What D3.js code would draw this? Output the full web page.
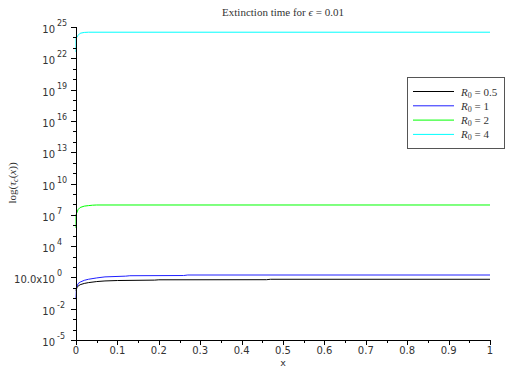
<!DOCTYPE html>
<html><head><meta charset="utf-8">
<script src="https://cdn.jsdelivr.net/npm/d3@7"></script>
<style>body{margin:0;background:#fff}svg{display:block}</style>
</head><body>
<svg id="c" width="506" height="371"></svg>
<script>
// x positions and log10(tau) values
const seriesNames = ["R0 = 0.5", "R0 = 1", "R0 = 2", "R0 = 4"];
const legendValues = ["0.5", "1", "2", "4"];
const colors = ["#000000", "#2020ff", "#00ff00", "#00ffff"];
const xR05 = [0, 0.003, 0.01, 0.02, 0.03, 0.05, 0.07, 0.1, 0.19, 0.2, 0.46, 0.47, 1];
const logR05 = [-0.25, 0.1, 0.3, 0.42, 0.5, 0.6, 0.66, 0.7, 0.74, 0.77, 0.78, 0.82, 0.82];
const xR1 = [0, 0.001, 0.005, 0.01, 0.02, 0.03, 0.05, 0.07, 0.12, 0.13, 0.26, 0.27, 1];
const logR1 = [-1.1, 0.0, 0.4, 0.55, 0.72, 0.82, 0.95, 1.05, 1.12, 1.16, 1.18, 1.23, 1.23];
const xR2 = [0, 0, 0.005, 0.01, 0.02, 0.03, 0.04, 0.05, 1];
const logR2 = [5.74, 7.0, 7.5, 7.7, 7.83, 7.88, 7.92, 7.94, 7.94];
const xR4 = [0, 0, 0.005, 0.01, 0.02, 0.03, 1];
const logR4 = [22.6, 23.9, 24.2, 24.4, 24.48, 24.5, 24.5];
const yTickExp = [-5, -2, 1, 4, 7, 10, 13, 16, 19, 22, 25];
const yTickBase = ["10", "10", "10.0x10", "10", "10", "10", "10", "10", "10", "10", "10"];
const yTickSup = ["-5", "-2", "0", "4", "7", "10", "13", "16", "19", "22", "25"];
const xTicks = [0, 0.1, 0.2, 0.3, 0.4, 0.5, 0.6, 0.7, 0.8, 0.9, 1];
const xTickLabels = ["0", "0.1", "0.2", "0.3", "0.4", "0.5", "0.6", "0.7", "0.8", "0.9", "1"];

const svg = d3.select("#c");
const x = d3.scaleLinear().domain([0, 1]).range([76, 490]);
const y = d3.scaleLog().domain([1e-5, 1e25]).range([340, 27]);
const serif = "'Liberation Serif','DejaVu Serif',serif";
const sans = "'DejaVu Sans',sans-serif";

// lines
const data = [[xR05, logR05], [xR1, logR1], [xR2, logR2], [xR4, logR4]];
const line = d3.line().x(d => x(d[0])).y(d => y(Math.pow(10, d[1])));
data.forEach((s, i) => {
  const pts = s[0].map((v, j) => [v, s[1][j]]);
  svg.append("path").attr("d", line(pts)).attr("fill", "none")
    .attr("stroke", colors[i]).attr("stroke-width", 1);
});

// axes
const ax = svg.append("g").attr("stroke", "#000").attr("stroke-width", 1).attr("shape-rendering", "crispEdges");
ax.append("line").attr("x1", x(0)).attr("x2", x(0)).attr("y1", y(1e25)).attr("y2", y(1e-5));
ax.append("line").attr("x1", x(0)).attr("x2", x(1)).attr("y1", y(1e-5)).attr("y2", y(1e-5));
// y ticks
for (let e = -5; e <= 25; e++) {
  const major = yTickExp.includes(e);
  ax.append("line").attr("x1", x(0) - (major ? 5 : 3)).attr("x2", x(0))
    .attr("y1", Math.round(y(Math.pow(10, e))) + 0.5).attr("y2", Math.round(y(Math.pow(10, e))) + 0.5);
}
// x ticks
for (let k = 0; k <= 20; k++) {
  const major = k % 2 === 0;
  const xv = Math.round(x(k / 20)) + 0.5;
  ax.append("line").attr("x1", xv).attr("x2", xv).attr("y1", y(1e-5)).attr("y2", y(1e-5) + (major ? 5 : 3));
}
// y tick labels
yTickExp.forEach((e, i) => {
  const yy = y(Math.pow(10, e));
  svg.append("text").attr("x", 55).attr("y", yy + 6).attr("text-anchor", "end")
    .attr("font-family", sans).attr("font-size", 10).attr("fill", "#333").text(yTickBase[i]);
  svg.append("text").attr("x", 57).attr("y", yy - 1).attr("text-anchor", "start")
    .attr("font-family", sans).attr("font-size", 8).attr("fill", "#333").text(yTickSup[i]);
});
// x tick labels
xTicks.forEach((v, i) => {
  svg.append("text").attr("x", x(v)).attr("y", 354).attr("text-anchor", "middle")
    .attr("font-family", sans).attr("font-size", 10).attr("fill", "#333").text(xTickLabels[i]);
});
// x label
svg.append("text").attr("x", x(0.5)).attr("y", 365.5).attr("text-anchor", "middle")
  .attr("font-family", sans).attr("font-size", 9.5).attr("fill", "#333").text("x");
// y label
const yl = svg.append("text").attr("transform", "translate(16,183) rotate(-90)")
  .attr("text-anchor", "middle").attr("font-family", serif).attr("font-size", 11).attr("fill", "#333");
yl.append("tspan").text("log(");
yl.append("tspan").attr("font-style", "italic").text("τ");
yl.append("tspan").attr("font-style", "italic").attr("font-size", 8).attr("dy", 2).text("c");
yl.append("tspan").attr("dy", -2).text("(");
yl.append("tspan").attr("font-style", "italic").text("x");
yl.append("tspan").text("))");
// title
const t = svg.append("text").attr("x", 283).attr("y", 16).attr("text-anchor", "middle")
  .attr("font-family", serif).attr("font-size", 11).attr("fill", "#333");
t.append("tspan").text("Extinction time for ");
t.append("tspan").attr("font-style", "italic").text("ϵ");
t.append("tspan").text(" = 0.01");
// legend
svg.append("rect").attr("x", 407.5).attr("y", 77.5).attr("width", 97).attr("height", 71)
  .attr("fill", "#fff").attr("stroke", "#555").attr("stroke-width", 1);
seriesNames.forEach((n, i) => {
  const ly = 91.5 + i * 14.3;
  svg.append("line").attr("x1", 413).attr("x2", 454).attr("y1", ly).attr("y2", ly)
    .attr("stroke", colors[i]).attr("stroke-width", 1);
  const lt = svg.append("text").attr("x", 461).attr("y", ly + 4)
    .attr("font-family", serif).attr("font-size", 11).attr("fill", "#333");
  lt.append("tspan").attr("font-style", "italic").text("R");
  lt.append("tspan").attr("font-size", 8).attr("dy", 2).text("0");
  lt.append("tspan").attr("dy", -2).text(" = " + legendValues[i]);
});
</script>
</body></html>
